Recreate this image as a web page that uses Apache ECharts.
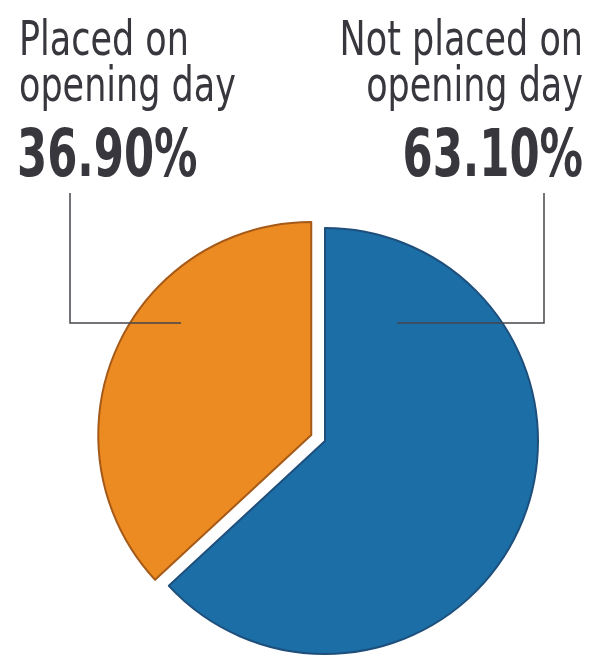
<!DOCTYPE html>
<html>
<head>
<meta charset="utf-8">
<script src="https://cdn.jsdelivr.net/npm/echarts@6/dist/echarts.min.js"></script>
<style>
html,body{margin:0;padding:0;background:#fff;}
#c{width:592px;height:658px;}
</style>
</head>
<body>
<div id="c"></div>
<script>
const categories = ['Not placed on\nopening day', 'Placed on\nopening day'];
const values = [63.10, 36.90];
const valueLabels = ['63.10%', '36.90%'];
const colors = ['#1b6fa6', '#ec8b21'];
const borders = ['#1e4f7c', '#a65a18'];

const chart = echarts.init(document.getElementById('c'), null, {renderer: 'canvas'});
const FONT = '"DejaVu Sans Condensed", "Liberation Sans Narrow", "Roboto", sans-serif';
const TEXT_COLOR = '#38373d';

const data = categories.map((name, i) => ({
  name: name,
  value: values[i],
  selected: i === 1,
  itemStyle: {color: colors[i], borderColor: borders[i], borderWidth: 2}
}));

const labelTexts = [];
categories.forEach((name, i) => {
  const right = i === 0;
  labelTexts.push({
    type: 'text', z: 100,
    x: right ? 583 : 19, y: 20, scaleX: 0.81,
    style: {
      text: name, align: right ? 'right' : 'left', verticalAlign: 'top',
      fill: TEXT_COLOR, fontFamily: FONT, fontSize: 48, lineHeight: 46
    }
  });
  labelTexts.push({
    type: 'text', z: 100,
    x: right ? 583 : 17, y: 126, scaleX: 0.73,
    style: {
      text: valueLabels[i], align: right ? 'right' : 'left', verticalAlign: 'top',
      fill: TEXT_COLOR, fontFamily: FONT, fontSize: 66, lineHeight: 66, fontWeight: 'bold'
    }
  });
});

chart.setOption({
  animation: false,
  series: [{
    type: 'pie',
    center: [325, 441],
    radius: 213,
    startAngle: 90,
    clockwise: true,
    selectedMode: 'single',
    selectedOffset: 15,
    data: data,
    label: {show: false},
    labelLine: {show: false},
    emphasis: {disabled: true}
  }],
  graphic: labelTexts.concat([
    {type: 'polyline', z: 100, shape: {points: [[70, 193], [70, 323], [181, 323]]},
     style: {stroke: '#45454c', lineWidth: 1.5, fill: null}},
    {type: 'polyline', z: 100, shape: {points: [[544, 193], [544, 323], [397, 323]]},
     style: {stroke: '#45454c', lineWidth: 1.5, fill: null}}
  ])
});
</script>
</body>
</html>
